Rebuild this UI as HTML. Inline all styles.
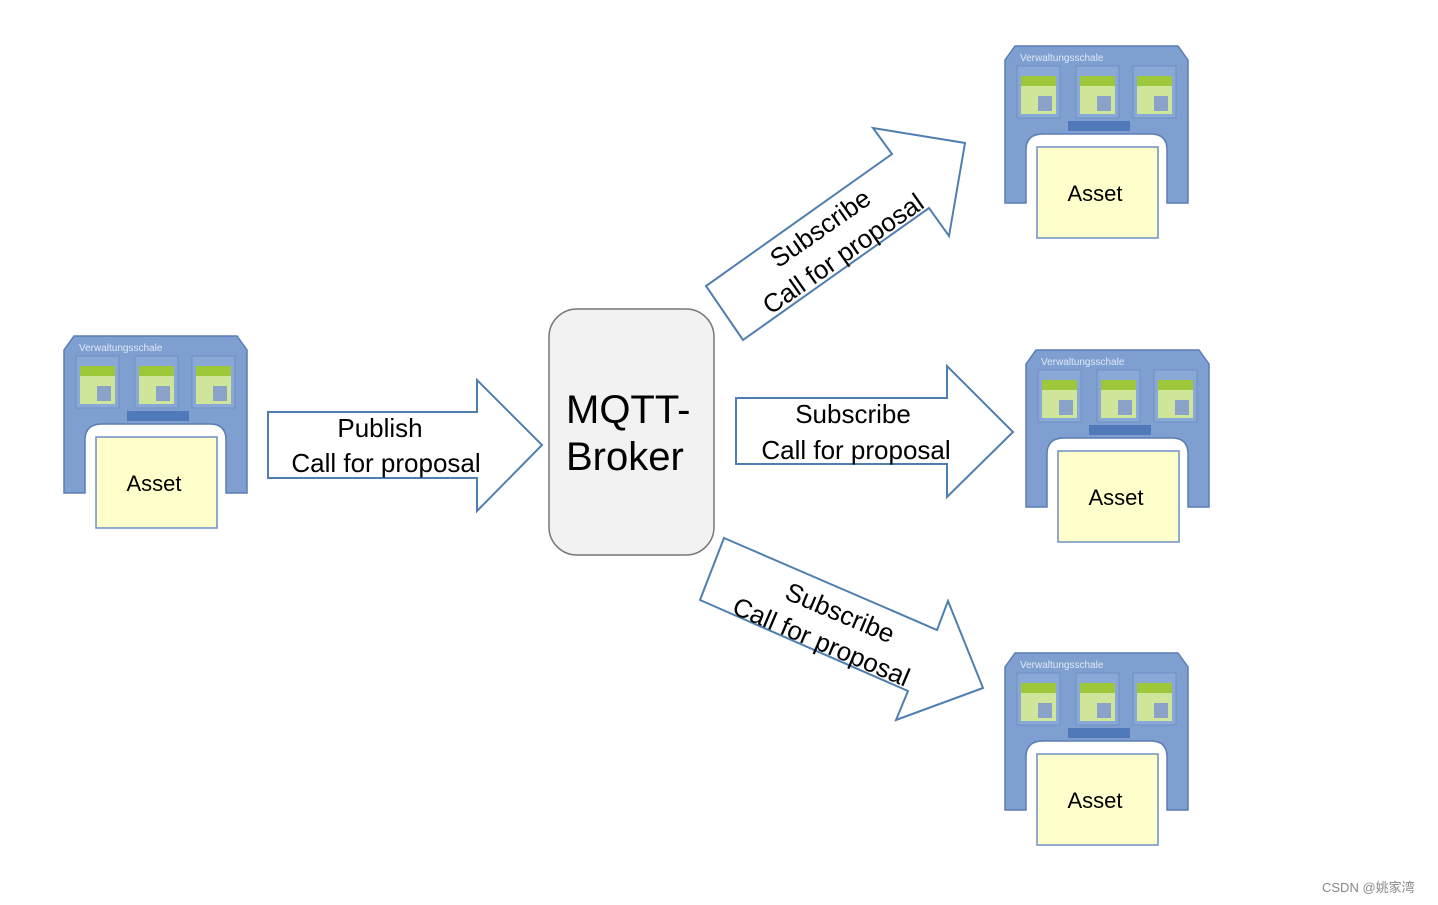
<!DOCTYPE html>
<html><head><meta charset="utf-8"><style>body{margin:0;background:#fff}svg{display:block}text{font-family:"Liberation Sans","DejaVu Sans",sans-serif}</style></head><body>
<svg width="1438" height="905" viewBox="0 0 1438 905" xmlns="http://www.w3.org/2000/svg">
<defs>
<g id="shell">
<path d="M0,14 L10,0 L173,0 L183,14 L183,157 L162,157 L162,104 Q162,88 146,88 L38,88 Q21,88 21,104 L21,157 L0,157 Z" fill="#7f9fd0" stroke="#5a7db5" stroke-width="1.5"/>
<text x="15" y="15" font-size="10" fill="#dfe8f6">Verwaltungsschale</text>
<g id="asp"><rect x="12" y="20" width="43" height="52" fill="#8aa8d6" stroke="#6d8fc4"/>
<rect x="16" y="30" width="35" height="10" fill="#9cc83a"/><rect x="16" y="40" width="35" height="28" fill="#cfe59a"/>
<rect x="33" y="50" width="14" height="15" fill="#8aa2c8"/></g>
<use href="#asp" x="59"/><use href="#asp" x="116"/>
<rect x="63" y="75" width="62" height="10" fill="#4f79b8"/>
<rect x="32" y="101" width="121" height="91" fill="#ffffcc" stroke="#6d8fc4" stroke-width="1.5"/>
<text x="90" y="155" font-size="22" text-anchor="middle" fill="#000">Asset</text>
</g>
</defs>
<use href="#shell" x="64" y="336"/>
<use href="#shell" x="1005" y="46"/>
<use href="#shell" x="1026" y="350"/>
<use href="#shell" x="1005" y="653"/>
<g fill="#fff" stroke="#4f7fb0" stroke-width="2">
<polygon points="268,412 477,412 477,380 542,445 477,511 477,478 268,478"/>
<polygon points="736,398 947,398 947,366 1013,432 947,497 947,464 736,464"/>
<polygon points="743,340 706,286 892,154 873,128 965,143 949,236 929,208"/>
<polygon points="724,538 937,630 948,601 983,688 896,720 908,691 700,600"/>
</g>
<rect x="549" y="309" width="165" height="246" rx="28" fill="#f2f2f2" stroke="#777" stroke-width="1.5"/>
<text x="566" y="423" font-size="40">MQTT-</text>
<text x="566" y="470" font-size="40">Broker</text>
<g font-size="26" text-anchor="middle">
<text x="380" y="437">Publish</text><text x="386" y="472">Call for proposal</text>
<text x="853" y="423">Subscribe</text><text x="856" y="459">Call for proposal</text>
<g transform="translate(830,242) rotate(-35)"><text x="0" y="-8">Subscribe</text><text x="4" y="26">Call for proposal</text></g>
<g transform="translate(828,626) rotate(23)"><text x="6" y="-8">Subscribe</text><text x="0" y="26">Call for proposal</text></g>
</g>
<text x="1322" y="892" font-size="13" fill="#888" font-family="Liberation Sans,Noto Sans CJK SC,sans-serif">CSDN @姚家湾</text>
</svg>
</body></html>
